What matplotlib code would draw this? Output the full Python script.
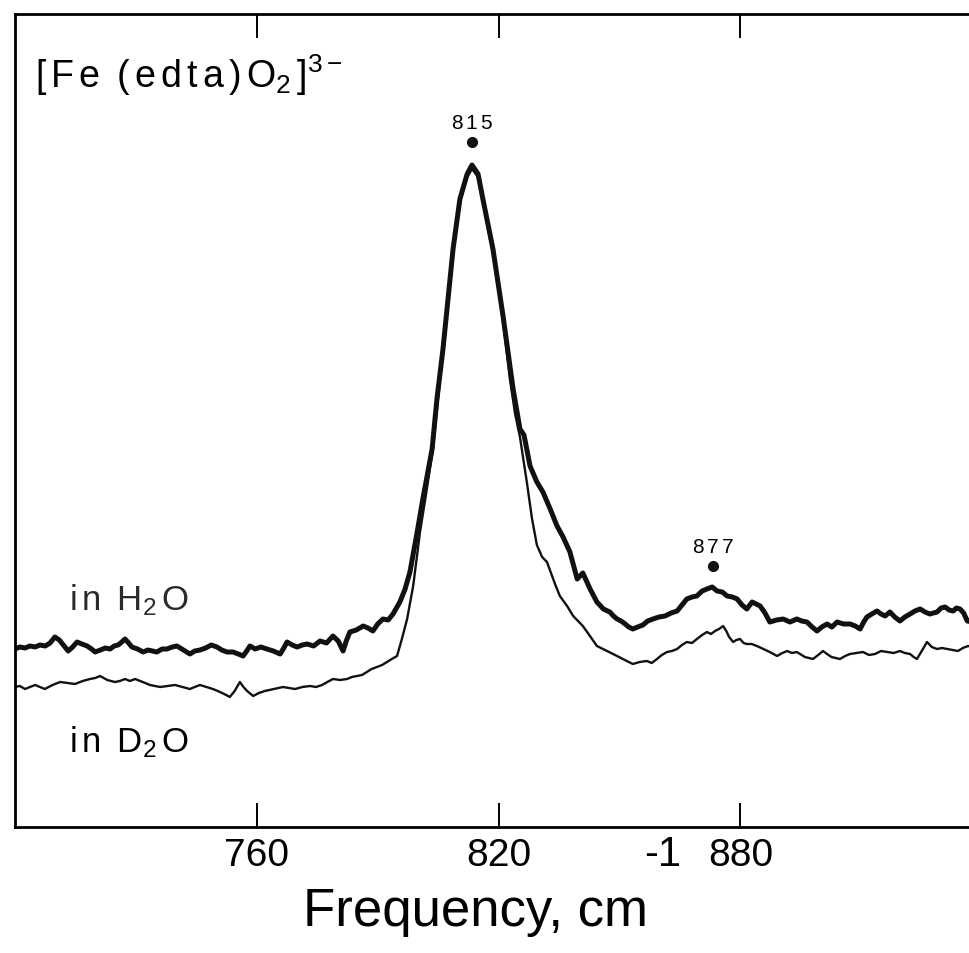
"""Resonance Raman spectra of [Fe(edta)O2]3- in H2O and D2O"""
import matplotlib
matplotlib.use('Agg')
import matplotlib.pyplot as plt

plt.rcParams['font.family'] = ['Liberation Sans', 'DejaVu Sans']
plt.rcParams['mathtext.fontset'] = 'custom'
plt.rcParams['mathtext.rm'] = 'Liberation Sans'
plt.rcParams['mathtext.it'] = 'Liberation Sans'

# spectrum in H2O (thick trace): (frequency cm-1, intensity arb. units)
h2o = [(700.0, 178), (701.2, 180), (702.5, 179), (703.7, 181), (705.0, 180),
       (706.2, 182), (707.5, 181), (708.7, 184), (709.9, 190), (711.0, 187),
       (712.0, 182), (713.2, 176), (714.3, 180), (715.4, 185), (716.6, 183),
       (717.9, 181), (719.0, 178), (719.9, 175), (721.2, 177), (722.4, 179),
       (723.6, 178), (724.6, 181), (725.6, 182), (726.5, 185), (727.3, 188),
       (728.2, 184), (729.0, 180), (730.4, 178), (731.8, 175), (733.0, 177),
       (734.1, 176), (735.2, 175), (736.5, 178), (737.7, 178), (739.0, 180),
       (740.2, 181), (741.8, 177), (743.4, 173), (744.6, 176), (745.9, 177),
       (747.3, 179), (748.7, 182), (750.1, 180), (751.3, 177), (752.6, 175),
       (754.1, 175), (755.4, 173), (756.6, 171), (757.5, 176), (758.3, 181),
       (759.6, 178), (761.0, 180), (762.5, 178), (764.1, 176), (765.8, 173),
       (766.7, 179), (767.5, 185), (768.8, 182), (770.0, 180), (771.3, 182),
       (772.5, 183), (774.1, 181), (775.7, 186), (777.3, 184), (778.9, 191),
       (780.2, 186), (781.4, 176), (782.2, 186), (783.1, 195), (784.7, 197),
       (786.4, 201), (787.6, 199), (788.8, 196), (790.0, 203), (791.3, 208),
       (792.6, 207), (793.8, 213), (795.5, 225), (796.8, 238), (798.0, 255),
       (799.8, 295), (801.2, 328), (803.5, 378), (804.7, 428), (806.2, 478),
       (808.7, 578), (810.4, 628), (812.2, 653), (813.4, 662), (814.9, 653),
       (816.1, 628), (818.6, 578), (821.1, 511), (823.6, 438), (825.3, 398),
       (826.3, 392), (827.8, 361), (829.5, 345), (831.0, 335), (832.8, 318),
       (834.5, 301), (836.0, 290), (837.7, 275), (839.5, 248), (840.9, 254),
       (842.7, 238), (844.4, 225), (846.0, 218), (847.6, 215), (848.5, 211),
       (849.4, 208), (850.4, 206), (851.4, 203), (852.3, 200), (853.3, 198),
       (854.5, 200), (855.8, 202), (857.0, 206), (858.3, 208), (859.8, 210),
       (861.3, 211), (862.8, 214), (864.3, 216), (865.5, 222), (866.7, 228),
       (868.0, 230), (869.2, 231), (870.5, 236), (871.7, 238), (873.0, 240),
       (874.2, 236), (875.5, 235), (876.7, 231), (878.0, 230), (879.2, 228),
       (880.4, 222), (881.6, 218), (882.9, 225), (883.9, 223), (884.9, 221),
       (886.1, 214), (887.3, 205), (889.0, 207), (890.6, 208), (892.3, 205),
       (894.0, 208), (895.2, 206), (896.5, 205), (897.8, 200), (899.0, 196),
       (900.2, 200), (901.5, 203), (902.7, 200), (904.0, 205), (905.6, 203),
       (907.2, 203), (908.5, 201), (909.7, 198), (910.6, 205), (911.4, 210),
       (912.6, 213), (913.9, 216), (914.9, 213), (915.9, 211), (917.1, 215),
       (918.3, 210), (919.6, 206), (920.8, 210), (922.1, 213), (923.3, 216),
       (924.6, 218), (925.8, 215), (927.0, 213), (928.8, 215), (929.8, 219),
       (930.8, 220), (931.8, 217), (932.8, 216), (933.6, 219), (934.5, 218),
       (935.4, 214), (936.3, 206), (937.5, 205)]

# spectrum in D2O (thin trace)
d2o = [(700.0, 140), (701.2, 141), (702.5, 138), (703.7, 140), (705.0, 142),
       (706.2, 140), (707.4, 138), (709.3, 142), (711.2, 145), (713.0, 144),
       (714.9, 143), (716.8, 146), (718.6, 148), (719.9, 149), (721.1, 151),
       (722.9, 147), (724.8, 145), (726.0, 146), (727.3, 148), (728.5, 146),
       (729.8, 148), (731.7, 145), (733.5, 142), (734.8, 141), (736.0, 140),
       (737.8, 141), (739.7, 142), (741.5, 140), (743.4, 138), (744.6, 140),
       (745.9, 142), (747.5, 140), (749.1, 138), (750.3, 136), (751.4, 134),
       (752.4, 132), (753.3, 130), (754.5, 136), (755.8, 145), (756.7, 140),
       (757.6, 136), (759.1, 131), (760.5, 134), (762.0, 136), (764.2, 138),
       (766.5, 140), (768.0, 139), (769.5, 138), (771.3, 140), (773.2, 141),
       (774.7, 140), (776.2, 142), (777.5, 145), (778.9, 148), (780.7, 147),
       (782.4, 148), (783.6, 150), (784.9, 151), (786.1, 152), (787.3, 155),
       (788.5, 158), (789.8, 160), (791.1, 162), (792.3, 165), (793.5, 168),
       (794.8, 171), (796.0, 188), (797.3, 208), (798.8, 241), (800.5, 295),
       (802.0, 333), (803.7, 378), (806.2, 476), (808.7, 576), (810.4, 625),
       (812.2, 650), (813.4, 658), (814.9, 650), (816.1, 625), (818.6, 573),
       (821.1, 506), (822.8, 448), (824.1, 413), (825.3, 390), (827.0, 345),
       (828.3, 308), (829.5, 282), (830.8, 270), (832.0, 265), (834.0, 243),
       (835.2, 231), (837.0, 221), (838.5, 211), (840.9, 201), (842.5, 192),
       (844.4, 181), (846.9, 176), (849.4, 171), (851.3, 167), (853.3, 163),
       (855.0, 165), (856.8, 166), (858.0, 164), (859.3, 168), (860.5, 172),
       (861.8, 175), (863.0, 176), (864.3, 178), (865.5, 182), (866.7, 185),
       (868.0, 184), (869.2, 188), (870.5, 192), (871.7, 195), (872.7, 193),
       (873.7, 196), (874.7, 198), (875.7, 201), (876.5, 196), (877.2, 190),
       (878.2, 185), (879.0, 187), (879.9, 188), (880.8, 184), (881.6, 183),
       (882.8, 183), (884.1, 181), (885.7, 178), (887.3, 175), (888.2, 173),
       (889.1, 171), (890.4, 174), (891.6, 176), (892.8, 174), (894.0, 175),
       (896.0, 170), (898.0, 168), (899.3, 172), (900.5, 176), (901.5, 173),
       (902.6, 170), (904.7, 168), (906.0, 171), (907.2, 173), (908.8, 174),
       (910.4, 175), (911.9, 172), (913.4, 173), (914.9, 176), (916.4, 175),
       (918.0, 174), (919.6, 176), (920.8, 174), (922.1, 173), (923.0, 170),
       (923.8, 168), (925.0, 176), (926.3, 185), (927.5, 180), (928.8, 178),
       (930.0, 179), (931.3, 178), (932.6, 177), (934.0, 176), (935.2, 179),
       (936.5, 181), (937.5, 180)]

# marked bands
band_labels = [r'$\mathrm{8\,1\,5}$', r'$\mathrm{8\,7\,7}$']
band_freq = [813.4, 873.2]
band_int = [685, 261]

tick_values = [760, 820, 880]

h2o_freq, h2o_int = zip(*h2o)
d2o_freq, d2o_int = zip(*d2o)

fig = plt.figure(figsize=(9.7, 9.54), dpi=100)
ax = fig.add_axes([15 / 970, 126 / 954, 1.0, 813 / 954])

ax.plot(h2o_freq, h2o_int, color='#111111', lw=3.6)
ax.plot(d2o_freq, d2o_int, color='#111111', lw=1.7)

ax.plot(band_freq, band_int, 'o', color='#111111', ms=7)
for lab, f, i in zip(band_labels, band_freq, band_int):
    ax.text(f, i + 10, lab, ha='center', va='bottom', fontsize=15)

ax.text(705, 753, r'$\mathrm{[\,F\,e\;\;(\,e\,d\,t\,a\,)\,O_{2}\,]^{3-}}$',
        fontsize=27, va='center', ha='left')
ax.text(713.5, 228, r'$\mathrm{i\,n\;\;H_{2}\,O}$', fontsize=25,
        va='center', ha='left', color='#2a2a2a')
ax.text(713.5, 86, r'$\mathrm{i\,n\;\;D_{2}\,O}$', fontsize=25,
        va='center', ha='left')

ax.set_xlim(700, 700 + 970 / 4.03)
ax.set_ylim(0, 813)
ax.set_xticks(tick_values)
ax.set_yticks([])
ax.tick_params(axis='x', direction='in', top=True, length=17, width=1.4,
               labelsize=28, pad=7)
for side in ['left', 'bottom', 'top']:
    ax.spines[side].set_linewidth(2)
ax.spines['right'].set_visible(False)

# axis title with a large raised exponent
fig.text(303 / 970, 1 - 926 / 954, 'Frequency, cm', fontsize=38,
         ha='left', va='baseline')
fig.text(644 / 970, 1 - 866 / 954, '-1', fontsize=30, ha='left', va='baseline')

fig.savefig('out.png', dpi=100)
